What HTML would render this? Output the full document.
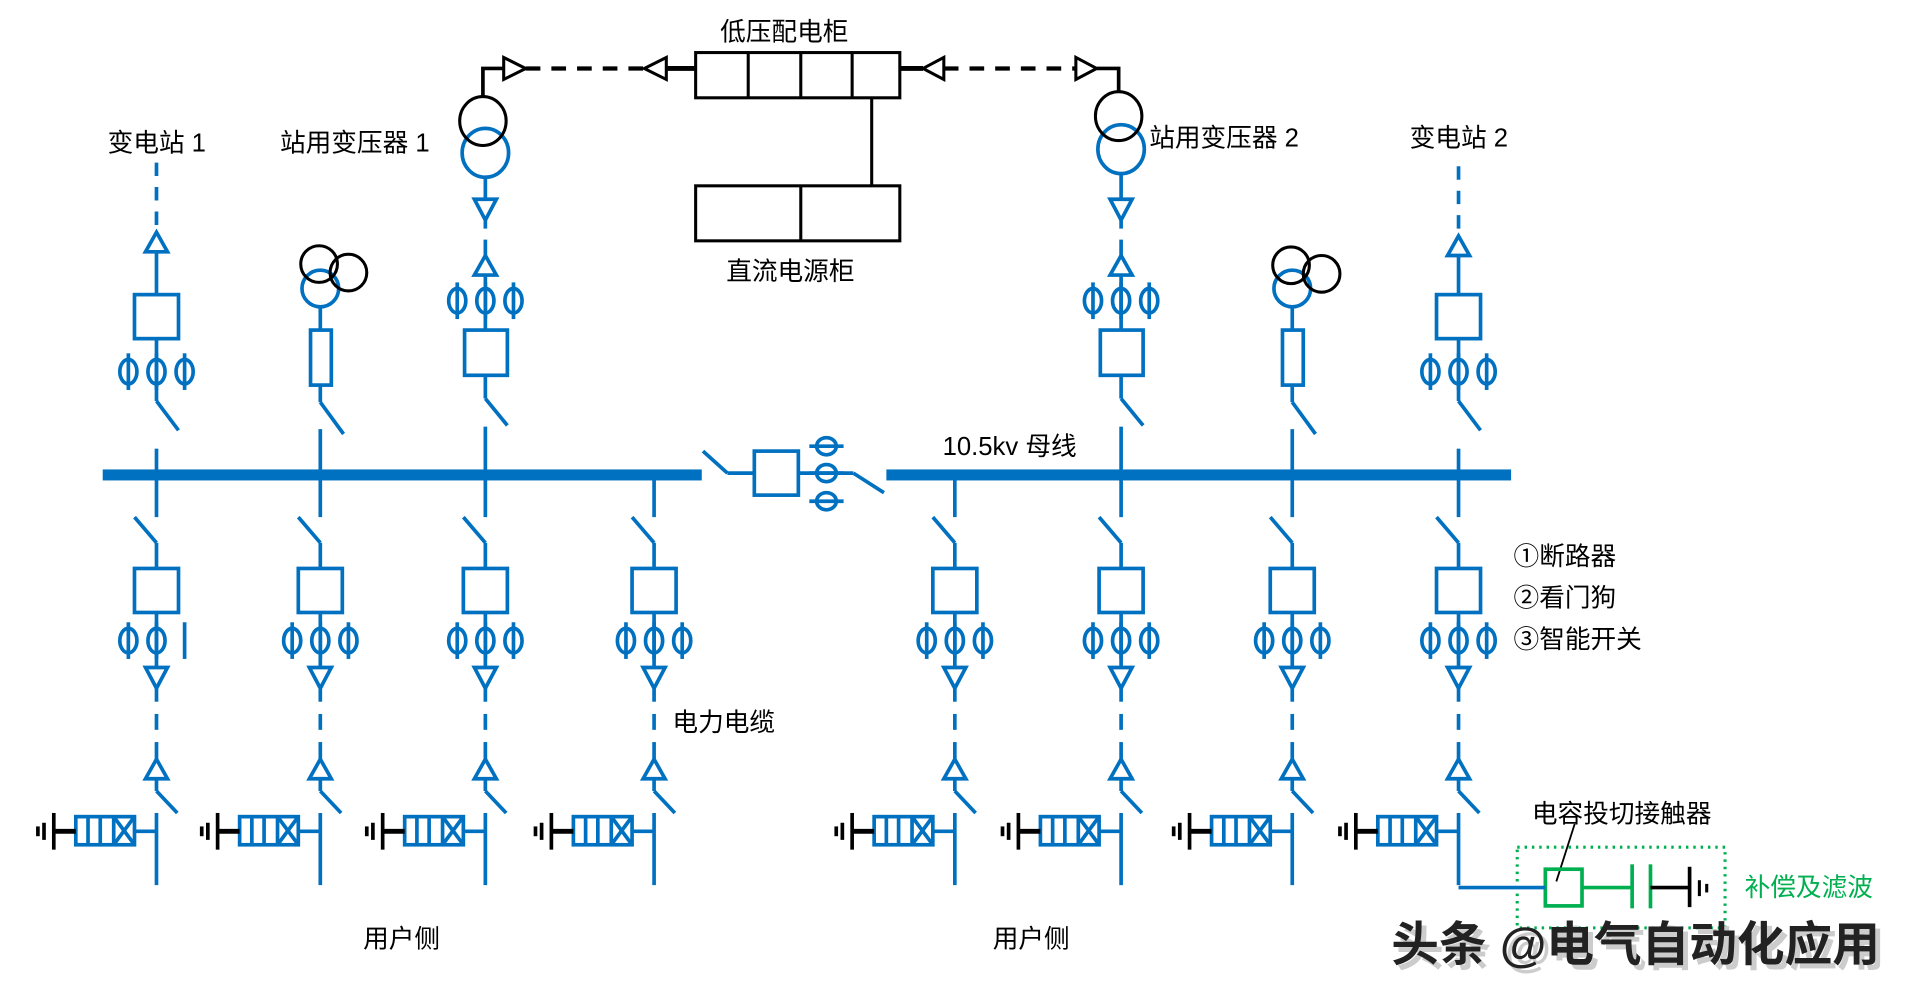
<!DOCTYPE html>
<html><head><meta charset="utf-8"><style>
html,body{margin:0;padding:0;background:#fff;}
svg{display:block;}
text{font-family:"Liberation Sans","Noto Sans CJK SC",sans-serif;}
</style></head><body>
<svg id="s" width="1917" height="1001" viewBox="0 0 1568 818.8" preserveAspectRatio="none" xmlns="http://www.w3.org/2000/svg">
<rect width="1570" height="820" fill="#fff"/>
<g id="g" fill="none" stroke="#0070C0" stroke-width="3"></g>
<rect x="84" y="384" width="490" height="9" fill="#0070C0"/>
<rect x="725" y="384" width="511" height="9" fill="#0070C0"/>
<g fill="none" stroke="#000" stroke-width="2.5">
<rect x="569" y="43" width="167" height="37"/>
<line x1="612" y1="43" x2="612" y2="80"/><line x1="655" y1="43" x2="655" y2="80"/><line x1="697" y1="43" x2="697" y2="80"/>
<rect x="569" y="152" width="167" height="45"/>
<line x1="655" y1="152" x2="655" y2="197"/>
<line x1="713" y1="80" x2="713" y2="152"/>
<line x1="545" y1="56" x2="569" y2="56" stroke-width="4"/>
<line x1="736" y1="56" x2="755" y2="56" stroke-width="4"/>
<line x1="430" y1="56" x2="527" y2="56" stroke-dasharray="12 9" stroke-width="3.5"/>
<line x1="772" y1="56" x2="880" y2="56" stroke-dasharray="12 9" stroke-width="3.5"/>
<polygon points="527,56 545,47 545,65"/>
<polygon points="772,47 772,65 755,56"/>
<polygon points="412,47 412,65 430,56"/>
<polygon points="880,47 880,65 897,56"/>
<polyline points="395,80 395,56 412,56" stroke-width="3"/>
<polyline points="897,56 915,56 915,76" stroke-width="3"/>
<ellipse cx="395" cy="99" rx="19" ry="20"/>
<ellipse cx="915" cy="95" rx="19" ry="20"/>
<circle cx="261" cy="216" r="15"/><circle cx="285" cy="223" r="15"/>
<circle cx="1056" cy="217" r="15"/><circle cx="1081" cy="224" r="15"/>
<line x1="1288" y1="674" x2="1273" y2="721" stroke-width="1.5"/>
</g>
<g fill="none" stroke="#00B050" stroke-width="3">
<rect x="1241" y="693" width="170" height="66" stroke-dasharray="2 4" stroke-width="2.5"/>
<rect x="1264" y="711" width="30" height="30"/>
<line x1="1294" y1="726" x2="1334" y2="726"/>
<line x1="1335" y1="707" x2="1335" y2="743"/>
<line x1="1350" y1="707" x2="1350" y2="743"/>
</g>
<line x1="1193" y1="726" x2="1264" y2="726" stroke="#0070C0" stroke-width="3"/>
<g stroke="#000" stroke-width="3">
<line x1="1350" y1="726" x2="1382" y2="726"/>
<line x1="1382" y1="709" x2="1382" y2="742"/>
<line x1="1390" y1="720" x2="1390" y2="733" stroke-width="2.5"/>
<line x1="1396" y1="723" x2="1396" y2="730" stroke-width="2.5"/>
</g>
<g font-size="21" fill="#000">
<text x="88" y="124">变电站 1</text>
<text x="229" y="124">站用变压器 1</text>
<text x="589" y="33">低压配电柜</text>
<text x="594" y="229">直流电源柜</text>
<text x="940" y="120">站用变压器 2</text>
<text x="1153" y="120">变电站 2</text>
<text x="771" y="372">10.5kv 母线</text>
<text x="550" y="598">电力电缆</text>
<text x="297" y="775">用户侧</text>
<text x="812" y="775">用户侧</text>
<text x="1238" y="462">①断路器</text>
<text x="1238" y="496">②看门狗</text>
<text x="1238" y="530">③智能开关</text>
<text x="1253" y="673">电容投切接触器</text>
<text x="1427" y="733" fill="#00B050">补偿及滤波</text>
</g>
<text x="1140" y="788" font-size="39" font-weight="bold" fill="#ccc" transform="translate(2,2)">头条 @电气自动化应用</text>
<text x="1138" y="786" font-size="39" font-weight="bold" fill="#222">头条 @电气自动化应用</text>
</svg>
<script>
var g=document.getElementById('g'),NS='http://www.w3.org/2000/svg';
function el(t,a){var e=document.createElementNS(NS,t);for(var k in a)e.setAttribute(k,a[k]);g.appendChild(e);return e;}
function L(x1,y1,x2,y2,ex){var a={x1:x1,y1:y1,x2:x2,y2:y2};if(ex)for(var k in ex)a[k]=ex[k];return el('line',a);}
function phi(x,y){el('ellipse',{cx:x,cy:y,rx:7,ry:10});L(x,y-15,x,y+15);}
function hphi(x,y){el('ellipse',{cx:x,cy:y,rx:8,ry:7});L(x-14,y,x+14,y);}
function triDown(x,t){el('polygon',{points:(x-9)+','+t+' '+(x+9)+','+t+' '+x+','+(t+17)});}
function triUp(x,a){el('polygon',{points:x+','+a+' '+(x-9)+','+(a+16)+' '+(x+9)+','+(a+16)});}
function sub(x,o){L(x,133+o,x,188+o,{'stroke-dasharray':'11 9'});triUp(x,190+o);L(x,206+o,x,241);
 el('rect',{x:x-18,y:241,width:36,height:36});L(x,277,x,328);phi(x-23,304);phi(x,304);phi(x+23,304);
 L(x,328,x+18,352);L(x,367,x,389);}
function aux(x){el('circle',{cx:x,cy:236,r:15});L(x,251,x,270);el('rect',{x:x-8,y:270,width:17,height:45});
 L(x,315,x,329);L(x,329,x+19,355);L(x,351,x,389);}
function stx(x,cb){el('ellipse',{cx:x,cy:cb,rx:19,ry:20});L(x,cb+20,x,163);triDown(x,163);L(x,180,x,187);
 L(x,196,x,209);triUp(x,209);L(x,225,x,270);phi(x-23,246);phi(x,246);phi(x+23,246);
 el('rect',{x:x-17,y:270,width:35,height:37});L(x,307,x,326);L(x,326,x+18,348);L(x,349,x,389);}
function low(x,first){L(x,389,x,423);L(x-18,423,x,444);L(x,444,x,465);el('rect',{x:x-18,y:465,width:36,height:36});
 L(x,501,x,545);phi(x-23,524);phi(x,524);if(first)L(x+23,509,x+23,539);else phi(x+23,524);
 triDown(x,546);L(x,563,x,574);L(x,584,x,597);L(x,607,x,621);triUp(x,621);L(x,637,x,647);L(x,647,x+17,665);
 L(x,665,x,724);L(x,680,x-18,680);el('rect',{x:x-66,y:668,width:48,height:23});
 L(x-56,668,x-56,691);L(x-46,668,x-46,691);L(x-35,668,x-35,691);L(x-35,668,x-18,691);L(x-18,668,x-35,691);
 var b={stroke:'#000'};L(x-66,680,x-84,680,{stroke:'#000','stroke-width':4});L(x-84,665,x-84,695,b);
 L(x-92,673,x-92,687,b);L(x-97,676,x-97,684,b);}
sub(128,0);sub(1193,3);aux(262);aux(1057);stx(397,125);stx(917,122);
[128,262,397,535,781,917,1057,1193].forEach(function(x,i){low(x,i==0);});
L(575,369,595,387);L(595,387,617,387);el('rect',{x:617,y:369,width:36,height:36});L(653,387,698,387);L(698,387,723,403);
hphi(676,365);hphi(676,387);hphi(676,410);
</script>
</body></html>
